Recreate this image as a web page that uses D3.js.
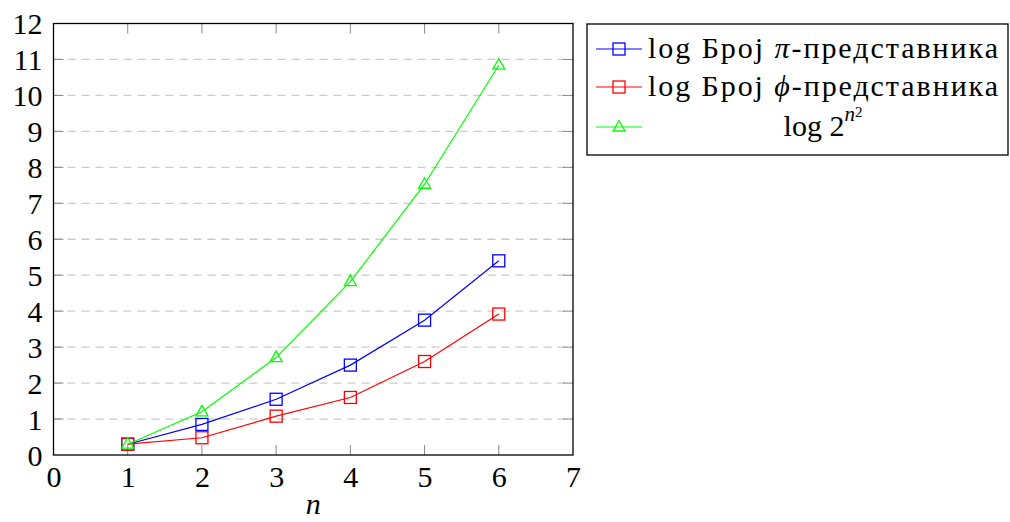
<!DOCTYPE html>
<html>
<head>
<meta charset="utf-8">
<script src="https://cdn.jsdelivr.net/npm/d3@7"></script>
<style>
  body { margin: 0; background: #fff; }
  text { font-family: "Liberation Serif", "DejaVu Serif", serif; }
</style>
</head>
<body>
<div id="chart"></div>
<script>
// values
var nValues = [1, 2, 3, 4, 5, 6];
var piValues = [0.30, 0.85, 1.55, 2.50, 3.75, 5.40];
var phiValues = [0.30, 0.48, 1.08, 1.60, 2.60, 3.92];
var boundValues = [0.30, 1.20, 2.71, 4.82, 7.53, 10.84];
var xTicks = [0, 1, 2, 3, 4, 5, 6, 7];
var yTicks = [0, 1, 2, 3, 4, 5, 6, 7, 8, 9, 10, 11, 12];

var W = 1010, H = 522;
var margin = {top: 23.5, right: 437, bottom: 67, left: 53.5},
    width = W - margin.left - margin.right,
    height = H - margin.top - margin.bottom;

var series = [
    {name: "pi", color: "#0000ff", marker: "square", values: piValues},
    {name: "phi", color: "#ff0000", marker: "square", values: phiValues},
    {name: "bound", color: "#00ff00", marker: "triangle", values: boundValues}
];

var svg = d3.select("#chart").append("svg")
    .attr("width", W)
    .attr("height", H);

var g = svg.append("g")
    .attr("transform", "translate(" + margin.left + "," + margin.top + ")");

var x = d3.scaleLinear().domain([0, 7]).range([0, width]);
var y = d3.scaleLinear().domain([0, 12]).range([height, 0]);

// dashed grid
g.append("g").selectAll("line")
    .data(yTicks.filter(function(d) { return d > 0 && d < 12; }))
    .enter().append("line")
    .attr("x1", 0).attr("x2", width)
    .attr("y1", function(d) { return y(d); })
    .attr("y2", function(d) { return y(d); })
    .style("stroke", "#cbcbcb")
    .style("stroke-width", 1.3)
    .style("stroke-dasharray", "8,6");

// tick marks on all four sides, pointing inward
var tickLen = 10, tickColor = "#888";
var ticks = g.append("g").style("stroke", tickColor).style("stroke-width", 1);
xTicks.slice(1, -1).forEach(function(d) {
    ticks.append("line").attr("x1", x(d)).attr("x2", x(d)).attr("y1", height).attr("y2", height - tickLen);
    ticks.append("line").attr("x1", x(d)).attr("x2", x(d)).attr("y1", 0).attr("y2", tickLen);
});
yTicks.slice(1, -1).forEach(function(d) {
    ticks.append("line").attr("y1", y(d)).attr("y2", y(d)).attr("x1", 0).attr("x2", tickLen);
    ticks.append("line").attr("y1", y(d)).attr("y2", y(d)).attr("x1", width).attr("x2", width - tickLen);
});

// tick labels via d3 axes (no lines)
var xAxis = g.append("g")
    .attr("transform", "translate(0," + height + ")")
    .call(d3.axisBottom(x).tickValues(xTicks).tickFormat(d3.format("d")).tickSize(0).tickPadding(10));
var yAxis = g.append("g")
    .call(d3.axisLeft(y).tickValues(yTicks).tickFormat(d3.format("d")).tickSize(0).tickPadding(11));
[xAxis, yAxis].forEach(function(a) {
    a.select(".domain").remove();
    a.selectAll("text")
        .style("font-family", "'Liberation Serif', serif")
        .style("font-size", "30px")
        .style("fill", "#000");
});
yAxis.selectAll("text").attr("dy", "0.34em");
xAxis.selectAll("text").attr("dy", "0.72em");

// frame
g.append("rect")
    .attr("width", width).attr("height", height)
    .style("fill", "none")
    .style("stroke", "#000")
    .style("stroke-width", 1.3);

var line = d3.line()
    .x(function(d, i) { return x(nValues[i]); })
    .y(function(d) { return y(d); });

function drawMarker(sel, type, color) {
    if (type === "square") {
        sel.append("rect")
            .attr("x", -6).attr("y", -6)
            .attr("width", 12).attr("height", 12)
            .style("fill", "none").style("stroke", color).style("stroke-width", 1.3);
    } else {
        sel.append("path")
            .attr("d", "M0,-6.5L6,4L-6,4Z")
            .style("fill", "none").style("stroke", color).style("stroke-width", 1.3);
    }
}

// series
series.forEach(function(s) {
    g.append("path")
        .datum(s.values)
        .attr("d", line)
        .style("fill", "none")
        .style("stroke", s.color)
        .style("stroke-width", 1.2);
    g.selectAll(".m-" + s.name)
        .data(s.values)
        .enter().append("g")
        .attr("class", "m-" + s.name)
        .attr("transform", function(d, i) { return "translate(" + x(nValues[i]) + "," + y(d) + ")"; })
        .each(function() { drawMarker(d3.select(this), s.marker, s.color); });
});

// x label
svg.append("text")
    .attr("x", margin.left + width / 2)
    .attr("y", 514)
    .attr("text-anchor", "middle")
    .style("font-size", "30px")
    .style("font-style", "italic")
    .text("n");

// legend
var legend = svg.append("g").attr("transform", "translate(587,24)");
legend.append("rect")
    .attr("width", 421).attr("height", 131)
    .style("fill", "#fff")
    .style("stroke", "#000")
    .style("stroke-width", 1.3);

var rowsY = [25, 63, 103];
var legendFont = "30px";
series.forEach(function(s, i) {
    var row = legend.append("g").attr("transform", "translate(0," + rowsY[i] + ")");
    row.append("line")
        .attr("x1", 9).attr("x2", 55)
        .style("stroke", s.color).style("stroke-width", 1.2);
    var m = row.append("g").attr("transform", "translate(32,0)");
    drawMarker(m, s.marker, s.color);
});

function legendText(i) {
    return legend.append("text")
        .attr("x", 236).attr("y", rowsY[i])
        .attr("dy", "0.3em")
        .attr("text-anchor", "middle")
        .style("font-size", legendFont);
}
var t0 = legendText(0).attr("textLength", 350).attr("lengthAdjust", "spacing");
t0.append("tspan").text("log Број ");
t0.append("tspan").style("font-style", "italic").text("π");
t0.append("tspan").text("-представника");
var t1 = legendText(1).attr("textLength", 350).attr("lengthAdjust", "spacing");
t1.append("tspan").text("log Број ");
t1.append("tspan").style("font-style", "italic").text("ϕ");
t1.append("tspan").text("-представника");
var t2 = legendText(2);
t2.append("tspan").text("log 2");
t2.append("tspan").style("font-style", "italic").style("font-size", "21px").attr("dy", "-0.7em").text("n");
t2.append("tspan").style("font-size", "15px").attr("dy", "-0.3em").text("2");
</script>
</body>
</html>
